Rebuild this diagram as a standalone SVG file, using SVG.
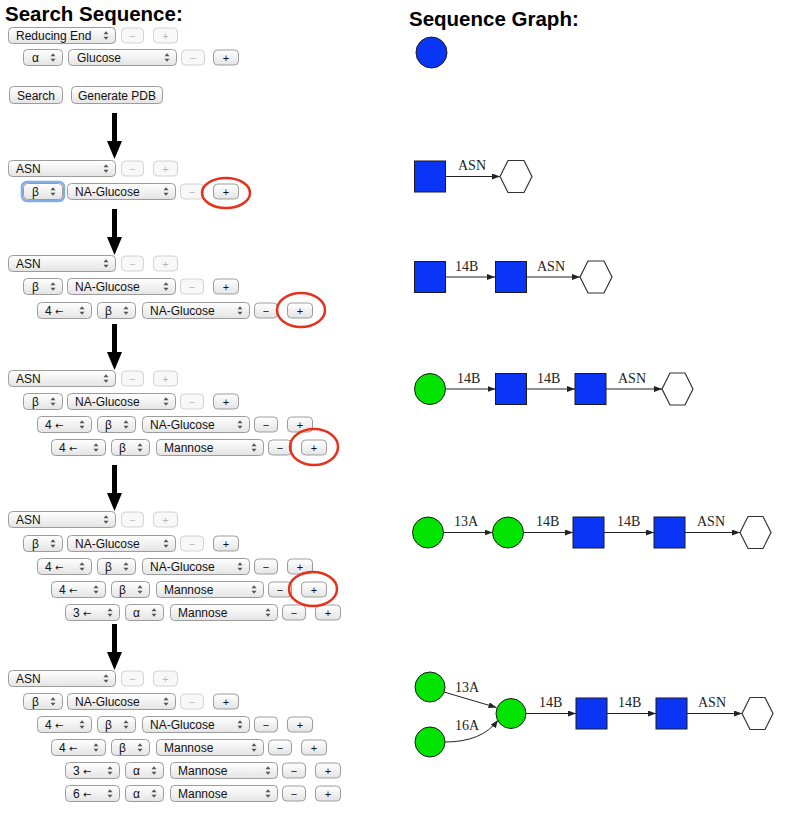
<svg xmlns="http://www.w3.org/2000/svg" xmlns:xlink="http://www.w3.org/1999/xlink" width="790" height="814" viewBox="0 0 790 814">
<defs>
<linearGradient id="g" x1="0" y1="0" x2="0" y2="1"><stop offset="0" stop-color="#ffffff"/><stop offset="1" stop-color="#e4e4e4"/></linearGradient>
<g id="st"><path d="M-2.5,-1.2 L2.5,-1.2 L0,-4.2 Z M-2.5,1.2 L2.5,1.2 L0,4.2 Z" fill="#555"/></g>
<marker id="ah" viewBox="0 0 8 6" refX="8" refY="3" markerWidth="8" markerHeight="6" markerUnits="userSpaceOnUse" orient="auto"><path d="M0,0 L8,3 L0,6 Z" fill="#222"/></marker>
<style>
.s{fill:url(#g);stroke:#9c9c9c;stroke-width:1}
.b{fill:url(#g);stroke:#9c9c9c;stroke-width:1}
.d{fill:#f8f8f8;stroke:#d2d2d2;stroke-width:1}
.t{font-family:"Liberation Sans","DejaVu Sans",sans-serif;font-size:12px;fill:#111}
.ar{font-family:"DejaVu Sans",sans-serif;font-size:10px}
.c{text-anchor:middle;font-size:11px}
.dt{fill:#b8b8b8}
.h{font-family:"Liberation Sans",Arial,sans-serif;font-size:20.5px;font-weight:bold;fill:#000}
.ring{fill:none;stroke:#e5321c;stroke-width:2.5}
.arr{fill:#000}
.blue{fill:#0a35f7;stroke:#1a1a1a;stroke-width:1}
.green{fill:#00e400;stroke:#1a1a1a;stroke-width:1}
.hex{fill:#fff;stroke:#333;stroke-width:1.2}
.e{fill:none;stroke:#222;stroke-width:1;marker-end:url(#ah)}
.lb{font-family:"Liberation Serif","Times New Roman",serif;font-size:14px;fill:#222}
</style>
</defs>
<rect width="790" height="814" fill="#fff"/>

<text class="h" x="5" y="21">Search Sequence:</text>
<text class="h" x="409" y="26">Sequence Graph:</text>

<!-- Block 0 -->
<g id="block0">
<g transform="translate(0,27)">
<rect class="s" x="8.5" y="0.5" width="107" height="16" rx="4"/><text class="t" x="16" y="12.5">Reducing End</text><use href="#st" x="106" y="8.5"/>
<rect class="d" x="121.5" y="1" width="22" height="15" rx="4"/><text class="t c dt" x="132.5" y="12.5">−</text>
<rect class="d" x="153.5" y="1" width="24" height="15" rx="4"/><text class="t c dt" x="165.5" y="12.5">+</text>
</g>
<g transform="translate(0,49)">
<rect class="s" x="23.5" y="0.5" width="39" height="16" rx="4"/><text class="t" x="32" y="12.5">α</text><use href="#st" x="53" y="8.5"/>
<rect class="s" x="68.5" y="0.5" width="108" height="16" rx="4"/><text class="t" x="77" y="12.5">Glucose</text><use href="#st" x="167" y="8.5"/>
<rect class="d" x="181.5" y="1" width="23" height="15" rx="4"/><text class="t c dt" x="193" y="12.5">−</text>
<rect class="b" x="213.5" y="1" width="25" height="15" rx="4"/><text class="t c" x="226" y="12.5">+</text>
</g>
<rect class="b" x="9.5" y="86.5" width="53" height="17" rx="4"/><text class="t" x="36" y="99.5" text-anchor="middle">Search</text>
<rect class="b" x="71.5" y="86.5" width="91" height="17" rx="4"/><text class="t" x="117" y="99.5" text-anchor="middle">Generate PDB</text>
</g>

<!-- Arrows -->
<g id="arrows">
<path class="arr" d="M112,113 H117 V141 H122 L114.5,159 L107,141 H112 Z"/>
<path class="arr" d="M112,209 H117 V237 H122 L114.5,255 L107,237 H112 Z"/>
<path class="arr" d="M112,324 H117 V352 H122 L114.5,370 L107,352 H112 Z"/>
<path class="arr" d="M112,465 H117 V493 H122 L114.5,511 L107,493 H112 Z"/>
<path class="arr" d="M112,624 H117 V652 H122 L114.5,670 L107,652 H112 Z"/>
</g>

<!-- Block 1 -->
<g id="block1">
<g transform="translate(0,160)">
<rect class="s" x="8.5" y="0.5" width="107" height="16" rx="4"/><text class="t" x="16" y="12.5">ASN</text><use href="#st" x="106" y="8.5"/>
<rect class="d" x="121.5" y="1" width="22" height="15" rx="4"/><text class="t c dt" x="132.5" y="12.5">−</text>
<rect class="d" x="153.5" y="1" width="24" height="15" rx="4"/><text class="t c dt" x="165.5" y="12.5">+</text>
</g>
<g transform="translate(0,183)">
<rect x="22" y="-1" width="42" height="19" rx="5" fill="none" stroke="#6c9fe3" stroke-width="2.5" opacity="0.85"/>
<rect class="s" x="23.5" y="0.5" width="39" height="16" rx="4" stroke="#5a8ad0"/><text class="t" x="32" y="12.5">β</text><use href="#st" x="53" y="8.5"/>
<rect class="s" x="67.5" y="0.5" width="108" height="16" rx="4"/><text class="t" x="75" y="12.5">NA-Glucose</text><use href="#st" x="166" y="8.5"/>
<rect class="d" x="180.5" y="1" width="23" height="15" rx="4"/><text class="t c dt" x="192" y="12.5">−</text>
<rect class="b" x="213.5" y="1" width="25" height="15" rx="4"/><text class="t c" x="226" y="12.5">+</text>
</g>
<ellipse class="ring" cx="226" cy="193" rx="24" ry="15"/>
</g>

<!-- Block 2 -->
<g id="block2">
<g transform="translate(0,255)">
<rect class="s" x="8.5" y="0.5" width="107" height="16" rx="4"/><text class="t" x="16" y="12.5">ASN</text><use href="#st" x="106" y="8.5"/>
<rect class="d" x="121.5" y="1" width="22" height="15" rx="4"/><text class="t c dt" x="132.5" y="12.5">−</text>
<rect class="d" x="153.5" y="1" width="24" height="15" rx="4"/><text class="t c dt" x="165.5" y="12.5">+</text>
</g>
<g transform="translate(0,278)">
<rect class="s" x="23.5" y="0.5" width="39" height="16" rx="4"/><text class="t" x="32" y="12.5">β</text><use href="#st" x="53" y="8.5"/>
<rect class="s" x="67.5" y="0.5" width="108" height="16" rx="4"/><text class="t" x="75" y="12.5">NA-Glucose</text><use href="#st" x="166" y="8.5"/>
<rect class="d" x="180.5" y="1" width="23" height="15" rx="4"/><text class="t c dt" x="192" y="12.5">−</text>
<rect class="b" x="213.5" y="1" width="25" height="15" rx="4"/><text class="t c" x="226" y="12.5">+</text>
</g>
<g transform="translate(0,302)">
<rect class="s" x="37.5" y="0.5" width="54" height="16" rx="4"/><text class="t" x="45" y="12.5">4 <tspan class="ar">←</tspan></text><use href="#st" x="82" y="8.5"/>
<rect class="s" x="97.5" y="0.5" width="38" height="16" rx="4"/><text class="t" x="105" y="12.5">β</text><use href="#st" x="126" y="8.5"/>
<rect class="s" x="142.5" y="0.5" width="107" height="16" rx="4"/><text class="t" x="150" y="12.5">NA-Glucose</text><use href="#st" x="240" y="8.5"/>
<rect class="b" x="254.5" y="1" width="23" height="15" rx="4"/><text class="t c" x="266" y="12.5">−</text>
<rect class="b" x="287.5" y="1" width="25" height="15" rx="4"/><text class="t c" x="300" y="12.5">+</text>
</g>
<ellipse class="ring" cx="301" cy="310" rx="24" ry="17"/>
</g>

<!-- Block 3 -->
<g id="block3">
<g transform="translate(0,370)">
<rect class="s" x="8.5" y="0.5" width="107" height="16" rx="4"/><text class="t" x="16" y="12.5">ASN</text><use href="#st" x="106" y="8.5"/>
<rect class="d" x="121.5" y="1" width="22" height="15" rx="4"/><text class="t c dt" x="132.5" y="12.5">−</text>
<rect class="d" x="153.5" y="1" width="24" height="15" rx="4"/><text class="t c dt" x="165.5" y="12.5">+</text>
</g>
<g transform="translate(0,393)">
<rect class="s" x="23.5" y="0.5" width="39" height="16" rx="4"/><text class="t" x="32" y="12.5">β</text><use href="#st" x="53" y="8.5"/>
<rect class="s" x="67.5" y="0.5" width="108" height="16" rx="4"/><text class="t" x="75" y="12.5">NA-Glucose</text><use href="#st" x="166" y="8.5"/>
<rect class="d" x="180.5" y="1" width="23" height="15" rx="4"/><text class="t c dt" x="192" y="12.5">−</text>
<rect class="b" x="213.5" y="1" width="25" height="15" rx="4"/><text class="t c" x="226" y="12.5">+</text>
</g>
<g transform="translate(0,416)">
<rect class="s" x="37.5" y="0.5" width="54" height="16" rx="4"/><text class="t" x="45" y="12.5">4 <tspan class="ar">←</tspan></text><use href="#st" x="82" y="8.5"/>
<rect class="s" x="97.5" y="0.5" width="38" height="16" rx="4"/><text class="t" x="105" y="12.5">β</text><use href="#st" x="126" y="8.5"/>
<rect class="s" x="142.5" y="0.5" width="107" height="16" rx="4"/><text class="t" x="150" y="12.5">NA-Glucose</text><use href="#st" x="240" y="8.5"/>
<rect class="b" x="254.5" y="1" width="23" height="15" rx="4"/><text class="t c" x="266" y="12.5">−</text>
<rect class="b" x="287.5" y="1" width="25" height="15" rx="4"/><text class="t c" x="300" y="12.5">+</text>
</g>
<g transform="translate(0,439)">
<rect class="s" x="51.5" y="0.5" width="54" height="16" rx="4"/><text class="t" x="59" y="12.5">4 <tspan class="ar">←</tspan></text><use href="#st" x="96" y="8.5"/>
<rect class="s" x="111.5" y="0.5" width="38" height="16" rx="4"/><text class="t" x="119" y="12.5">β</text><use href="#st" x="140" y="8.5"/>
<rect class="s" x="156.5" y="0.5" width="107" height="16" rx="4"/><text class="t" x="164" y="12.5">Mannose</text><use href="#st" x="254" y="8.5"/>
<rect class="b" x="268.5" y="1" width="23" height="15" rx="4"/><text class="t c" x="280" y="12.5">−</text>
<rect class="b" x="301.5" y="1" width="25" height="15" rx="4"/><text class="t c" x="314" y="12.5">+</text>
</g>
<ellipse class="ring" cx="314" cy="447" rx="24" ry="18"/>
</g>

<!-- Block 4 -->
<g id="block4">
<g transform="translate(0,511)">
<rect class="s" x="8.5" y="0.5" width="107" height="16" rx="4"/><text class="t" x="16" y="12.5">ASN</text><use href="#st" x="106" y="8.5"/>
<rect class="d" x="121.5" y="1" width="22" height="15" rx="4"/><text class="t c dt" x="132.5" y="12.5">−</text>
<rect class="d" x="153.5" y="1" width="24" height="15" rx="4"/><text class="t c dt" x="165.5" y="12.5">+</text>
</g>
<g transform="translate(0,535)">
<rect class="s" x="23.5" y="0.5" width="39" height="16" rx="4"/><text class="t" x="32" y="12.5">β</text><use href="#st" x="53" y="8.5"/>
<rect class="s" x="67.5" y="0.5" width="108" height="16" rx="4"/><text class="t" x="75" y="12.5">NA-Glucose</text><use href="#st" x="166" y="8.5"/>
<rect class="d" x="180.5" y="1" width="23" height="15" rx="4"/><text class="t c dt" x="192" y="12.5">−</text>
<rect class="b" x="213.5" y="1" width="25" height="15" rx="4"/><text class="t c" x="226" y="12.5">+</text>
</g>
<g transform="translate(0,558)">
<rect class="s" x="37.5" y="0.5" width="54" height="16" rx="4"/><text class="t" x="45" y="12.5">4 <tspan class="ar">←</tspan></text><use href="#st" x="82" y="8.5"/>
<rect class="s" x="97.5" y="0.5" width="38" height="16" rx="4"/><text class="t" x="105" y="12.5">β</text><use href="#st" x="126" y="8.5"/>
<rect class="s" x="142.5" y="0.5" width="107" height="16" rx="4"/><text class="t" x="150" y="12.5">NA-Glucose</text><use href="#st" x="240" y="8.5"/>
<rect class="b" x="254.5" y="1" width="23" height="15" rx="4"/><text class="t c" x="266" y="12.5">−</text>
<rect class="b" x="287.5" y="1" width="25" height="15" rx="4"/><text class="t c" x="300" y="12.5">+</text>
</g>
<g transform="translate(0,581)">
<rect class="s" x="51.5" y="0.5" width="54" height="16" rx="4"/><text class="t" x="59" y="12.5">4 <tspan class="ar">←</tspan></text><use href="#st" x="96" y="8.5"/>
<rect class="s" x="111.5" y="0.5" width="38" height="16" rx="4"/><text class="t" x="119" y="12.5">β</text><use href="#st" x="140" y="8.5"/>
<rect class="s" x="156.5" y="0.5" width="107" height="16" rx="4"/><text class="t" x="164" y="12.5">Mannose</text><use href="#st" x="254" y="8.5"/>
<rect class="b" x="268.5" y="1" width="23" height="15" rx="4"/><text class="t c" x="280" y="12.5">−</text>
<rect class="b" x="301.5" y="1" width="25" height="15" rx="4"/><text class="t c" x="314" y="12.5">+</text>
</g>
<g transform="translate(0,604)">
<rect class="s" x="65.5" y="0.5" width="54" height="16" rx="4"/><text class="t" x="73" y="12.5">3 <tspan class="ar">←</tspan></text><use href="#st" x="110" y="8.5"/>
<rect class="s" x="125.5" y="0.5" width="38" height="16" rx="4"/><text class="t" x="133" y="12.5">α</text><use href="#st" x="154" y="8.5"/>
<rect class="s" x="170.5" y="0.5" width="107" height="16" rx="4"/><text class="t" x="178" y="12.5">Mannose</text><use href="#st" x="268" y="8.5"/>
<rect class="b" x="282.5" y="1" width="23" height="15" rx="4"/><text class="t c" x="294" y="12.5">−</text>
<rect class="b" x="315.5" y="1" width="25" height="15" rx="4"/><text class="t c" x="328" y="12.5">+</text>
</g>
<ellipse class="ring" cx="313" cy="589" rx="24" ry="17"/>
</g>

<!-- Block 5 -->
<g id="block5">
<g transform="translate(0,670)">
<rect class="s" x="8.5" y="0.5" width="107" height="16" rx="4"/><text class="t" x="16" y="12.5">ASN</text><use href="#st" x="106" y="8.5"/>
<rect class="d" x="121.5" y="1" width="22" height="15" rx="4"/><text class="t c dt" x="132.5" y="12.5">−</text>
<rect class="d" x="153.5" y="1" width="24" height="15" rx="4"/><text class="t c dt" x="165.5" y="12.5">+</text>
</g>
<g transform="translate(0,693)">
<rect class="s" x="23.5" y="0.5" width="39" height="16" rx="4"/><text class="t" x="32" y="12.5">β</text><use href="#st" x="53" y="8.5"/>
<rect class="s" x="67.5" y="0.5" width="108" height="16" rx="4"/><text class="t" x="75" y="12.5">NA-Glucose</text><use href="#st" x="166" y="8.5"/>
<rect class="d" x="180.5" y="1" width="23" height="15" rx="4"/><text class="t c dt" x="192" y="12.5">−</text>
<rect class="b" x="213.5" y="1" width="25" height="15" rx="4"/><text class="t c" x="226" y="12.5">+</text>
</g>
<g transform="translate(0,716)">
<rect class="s" x="37.5" y="0.5" width="54" height="16" rx="4"/><text class="t" x="45" y="12.5">4 <tspan class="ar">←</tspan></text><use href="#st" x="82" y="8.5"/>
<rect class="s" x="97.5" y="0.5" width="38" height="16" rx="4"/><text class="t" x="105" y="12.5">β</text><use href="#st" x="126" y="8.5"/>
<rect class="s" x="142.5" y="0.5" width="107" height="16" rx="4"/><text class="t" x="150" y="12.5">NA-Glucose</text><use href="#st" x="240" y="8.5"/>
<rect class="b" x="254.5" y="1" width="23" height="15" rx="4"/><text class="t c" x="266" y="12.5">−</text>
<rect class="b" x="287.5" y="1" width="25" height="15" rx="4"/><text class="t c" x="300" y="12.5">+</text>
</g>
<g transform="translate(0,739)">
<rect class="s" x="51.5" y="0.5" width="54" height="16" rx="4"/><text class="t" x="59" y="12.5">4 <tspan class="ar">←</tspan></text><use href="#st" x="96" y="8.5"/>
<rect class="s" x="111.5" y="0.5" width="38" height="16" rx="4"/><text class="t" x="119" y="12.5">β</text><use href="#st" x="140" y="8.5"/>
<rect class="s" x="156.5" y="0.5" width="107" height="16" rx="4"/><text class="t" x="164" y="12.5">Mannose</text><use href="#st" x="254" y="8.5"/>
<rect class="b" x="268.5" y="1" width="23" height="15" rx="4"/><text class="t c" x="280" y="12.5">−</text>
<rect class="b" x="301.5" y="1" width="25" height="15" rx="4"/><text class="t c" x="314" y="12.5">+</text>
</g>
<g transform="translate(0,762)">
<rect class="s" x="65.5" y="0.5" width="54" height="16" rx="4"/><text class="t" x="73" y="12.5">3 <tspan class="ar">←</tspan></text><use href="#st" x="110" y="8.5"/>
<rect class="s" x="125.5" y="0.5" width="38" height="16" rx="4"/><text class="t" x="133" y="12.5">α</text><use href="#st" x="154" y="8.5"/>
<rect class="s" x="170.5" y="0.5" width="107" height="16" rx="4"/><text class="t" x="178" y="12.5">Mannose</text><use href="#st" x="268" y="8.5"/>
<rect class="b" x="282.5" y="1" width="23" height="15" rx="4"/><text class="t c" x="294" y="12.5">−</text>
<rect class="b" x="315.5" y="1" width="25" height="15" rx="4"/><text class="t c" x="328" y="12.5">+</text>
</g>
<g transform="translate(0,785)">
<rect class="s" x="65.5" y="0.5" width="54" height="16" rx="4"/><text class="t" x="73" y="12.5">6 <tspan class="ar">←</tspan></text><use href="#st" x="110" y="8.5"/>
<rect class="s" x="125.5" y="0.5" width="38" height="16" rx="4"/><text class="t" x="133" y="12.5">α</text><use href="#st" x="154" y="8.5"/>
<rect class="s" x="170.5" y="0.5" width="107" height="16" rx="4"/><text class="t" x="178" y="12.5">Mannose</text><use href="#st" x="268" y="8.5"/>
<rect class="b" x="282.5" y="1" width="23" height="15" rx="4"/><text class="t c" x="294" y="12.5">−</text>
<rect class="b" x="315.5" y="1" width="25" height="15" rx="4"/><text class="t c" x="328" y="12.5">+</text>
</g>
</g>

<!-- Graph connectors -->
<g id="connectors">
<path class="e" d="M445,176.5 L500,176.5"/>
<path class="e" d="M445,277 L495,277"/>
<path class="e" d="M526,277 L580,277"/>
<path class="e" d="M445.5,389 L495.5,389"/>
<path class="e" d="M526.5,389 L575,389"/>
<path class="e" d="M606,389 L662,389"/>
<path class="e" d="M443.5,532.5 L492.5,532.5"/>
<path class="e" d="M523.5,532.5 L573,532.5"/>
<path class="e" d="M604,532.5 L654,532.5"/>
<path class="e" d="M685,532.5 L740,532.5"/>
<path class="e" d="M444,692 L496.5,707.5"/>
<path class="e" d="M445,742 Q482,742 498,720"/>
<path class="e" d="M526,713.5 L576,713.5"/>
<path class="e" d="M607,713.5 L656,713.5"/>
<path class="e" d="M687,713.5 L742,713.5"/>
</g>
<g id="edge-labels">
<text class="lb" x="458" y="170">ASN</text>
<text class="lb" x="455" y="271">14B</text>
<text class="lb" x="537" y="271">ASN</text>
<text class="lb" x="457" y="383">14B</text>
<text class="lb" x="537" y="383">14B</text>
<text class="lb" x="618" y="383">ASN</text>
<text class="lb" x="454" y="526">13A</text>
<text class="lb" x="536" y="526">14B</text>
<text class="lb" x="617" y="526">14B</text>
<text class="lb" x="697" y="526">ASN</text>
<text class="lb" x="455" y="692">13A</text>
<text class="lb" x="455" y="730">16A</text>
<text class="lb" x="539" y="707">14B</text>
<text class="lb" x="618" y="707">14B</text>
<text class="lb" x="698" y="707">ASN</text>
</g>

<!-- Graph nodes -->
<g id="g0-glc"><circle class="blue" cx="431.5" cy="52.5" r="15.5"/></g>

<g id="g1-glcnac"><rect class="blue" x="414.5" y="161" width="31" height="31"/></g>
<g id="g1-asn"><polygon class="hex" points="500,176.5 508,160.5 524,160.5 532,176.5 524,192.5 508,192.5"/></g>

<g id="g2-glcnac1"><rect class="blue" x="414.5" y="261.5" width="31" height="31"/></g>
<g id="g2-glcnac2"><rect class="blue" x="495.5" y="261.5" width="31" height="31"/></g>
<g id="g2-asn"><polygon class="hex" points="580,277 588,261 604,261 612,277 604,293 588,293"/></g>

<g id="g3-man"><circle class="green" cx="430" cy="389" r="15.5"/></g>
<g id="g3-glcnac1"><rect class="blue" x="495.5" y="373.5" width="31" height="31"/></g>
<g id="g3-glcnac2"><rect class="blue" x="575" y="373.5" width="31" height="31"/></g>
<g id="g3-asn"><polygon class="hex" points="662,389 670,373 685,373 693,389 685,405 670,405"/></g>

<g id="g4-man1"><circle class="green" cx="428" cy="532.5" r="15.5"/></g>
<g id="g4-man2"><circle class="green" cx="508" cy="532.5" r="15.5"/></g>
<g id="g4-glcnac1"><rect class="blue" x="573" y="517" width="31" height="31"/></g>
<g id="g4-glcnac2"><rect class="blue" x="654" y="517" width="31" height="31"/></g>
<g id="g4-asn"><polygon class="hex" points="740,532.5 748,516.5 763,516.5 771,532.5 763,548.5 748,548.5"/></g>

<g id="g5-man1"><circle class="green" cx="430" cy="687" r="15"/></g>
<g id="g5-man2"><circle class="green" cx="430" cy="742" r="15"/></g>
<g id="g5-man3"><circle class="green" cx="511" cy="713.5" r="15"/></g>
<g id="g5-glcnac1"><rect class="blue" x="576" y="698" width="31" height="31"/></g>
<g id="g5-glcnac2"><rect class="blue" x="656" y="698" width="31" height="31"/></g>
<g id="g5-asn"><polygon class="hex" points="742,713.5 750,697.5 765,697.5 773,713.5 765,729.5 750,729.5"/></g>
</svg>
